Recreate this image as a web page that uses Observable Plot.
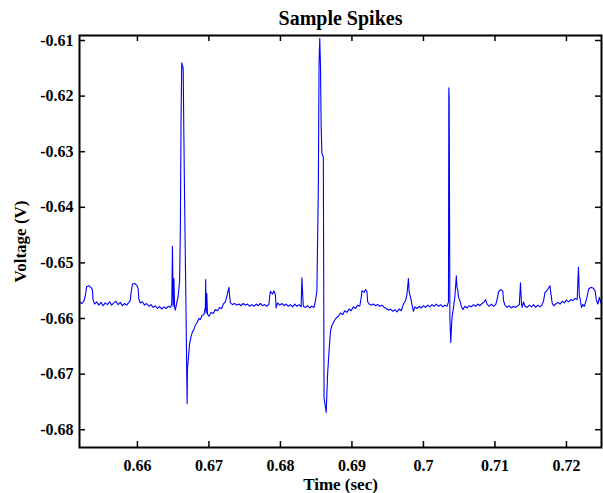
<!DOCTYPE html>
<html><head><meta charset="utf-8">
<script src="https://cdn.jsdelivr.net/npm/d3@7"></script>
<script src="https://cdn.jsdelivr.net/npm/@observablehq/plot@0.6"></script>
<style>html,body{margin:0;padding:0;background:#fff;} #chart{width:603px;height:493px;}</style>
</head><body><div id="chart"></div>
<script>
const chartTitle = "Sample Spikes";
const xLabel = "Time (sec)";
const yLabel = "Voltage (V)";
const xTicks = [0.66, 0.67, 0.68, 0.69, 0.70, 0.71, 0.72];
const yTicks = [-0.68, -0.67, -0.66, -0.65, -0.64, -0.63, -0.62, -0.61];
const xDomain = [0.6519, 0.7249];
const yDomain = [-0.6832, -0.6091];
// [time (s), voltage (V)]
const trace = [
[0.6519,-0.6570],[0.6522,-0.6573],[0.6525,-0.6569],[0.6527,-0.6560],[0.6529,-0.6543],[0.6532,-0.6541],[0.6535,-0.6544],[0.6537,-0.6548],[0.6538,-0.6566],[0.6540,-0.6574],
[0.6543,-0.6570],[0.6546,-0.6576],[0.6549,-0.6571],[0.6552,-0.6577],[0.6555,-0.6572],[0.6558,-0.6575],[0.6561,-0.6570],[0.6564,-0.6576],[0.6567,-0.6572],[0.6570,-0.6569],
[0.6573,-0.6575],[0.6576,-0.6571],[0.6579,-0.6577],[0.6582,-0.6573],[0.6585,-0.6576],[0.6588,-0.6571],[0.6590,-0.6568],[0.6591,-0.6555],[0.6593,-0.6538],[0.6596,-0.6537],
[0.6599,-0.6540],[0.6601,-0.6546],[0.6602,-0.6565],[0.6604,-0.6572],[0.6607,-0.6570],[0.6610,-0.6576],[0.6613,-0.6573],[0.6616,-0.6578],[0.6619,-0.6575],[0.6622,-0.6580],
[0.6625,-0.6577],[0.6628,-0.6582],[0.6631,-0.6578],[0.6634,-0.6583],[0.6637,-0.6579],[0.6640,-0.6582],[0.6643,-0.6578],[0.6646,-0.6580],[0.6648,-0.6575],[0.6649,-0.6470],
[0.6650,-0.6578],[0.6651,-0.6528],[0.6652,-0.6580],[0.6653,-0.6585],[0.6655,-0.6572],[0.6657,-0.6560],[0.6659,-0.6532],[0.6660,-0.6447],[0.6661,-0.6244],[0.6662,-0.6140],
[0.6664,-0.6150],[0.6665,-0.6275],[0.6666,-0.6388],[0.6668,-0.6591],[0.66695,-0.6753],[0.6670,-0.6690],[0.6671,-0.6676],[0.6673,-0.6645],[0.6675,-0.6632],[0.6677,-0.6624],
[0.6679,-0.6620],[0.6681,-0.6612],[0.6683,-0.6608],[0.6686,-0.6600],[0.6688,-0.6602],[0.6690,-0.6595],[0.6693,-0.6593],[0.6695,-0.6580],[0.66955,-0.6530],[0.6696,-0.6590],
[0.6697,-0.6555],[0.6698,-0.6592],[0.6700,-0.6596],[0.6703,-0.6589],[0.6706,-0.6591],[0.6709,-0.6584],[0.6712,-0.6586],[0.6715,-0.6580],[0.6718,-0.6582],[0.6720,-0.6574],
[0.6723,-0.6570],[0.6725,-0.6560],[0.6727,-0.6549],[0.6728,-0.6544],[0.6729,-0.6560],[0.6730,-0.6572],[0.6733,-0.6575],[0.6736,-0.6573],[0.6739,-0.6576],[0.6742,-0.6574],
[0.6745,-0.6577],[0.6748,-0.6573],[0.6751,-0.6576],[0.6754,-0.6574],[0.6757,-0.6578],[0.6760,-0.6575],[0.6763,-0.6578],[0.6766,-0.6574],[0.6769,-0.6577],[0.6772,-0.6573],
[0.6775,-0.6577],[0.6778,-0.6575],[0.6781,-0.6578],[0.6784,-0.6574],[0.6785,-0.6560],[0.6786,-0.6551],[0.6789,-0.6556],[0.6791,-0.6550],[0.6793,-0.6558],[0.6794,-0.6581],
[0.6796,-0.6572],[0.6799,-0.6576],[0.6802,-0.6573],[0.6805,-0.6577],[0.6808,-0.6574],[0.6811,-0.6578],[0.6814,-0.6575],[0.6817,-0.6579],[0.6820,-0.6574],[0.6823,-0.6578],
[0.6826,-0.6575],[0.6829,-0.6579],[0.6830,-0.6527],[0.6832,-0.6578],[0.6835,-0.6580],[0.6838,-0.6577],[0.6841,-0.6581],[0.6844,-0.6578],[0.6847,-0.6580],[0.6849,-0.6568],
[0.6851,-0.6550],[0.6853,-0.6365],[0.6854,-0.6140],[0.6855,-0.6096],[0.6856,-0.6145],[0.6857,-0.6257],[0.6858,-0.6303],[0.6860,-0.6310],[0.6861,-0.6742],[0.6864,-0.6769],
[0.6866,-0.6699],[0.6868,-0.6658],[0.6870,-0.6622],[0.6872,-0.6613],[0.6875,-0.6605],[0.6878,-0.6599],[0.6881,-0.6596],[0.6884,-0.6590],[0.6887,-0.6593],[0.6890,-0.6586],
[0.6893,-0.6589],[0.6896,-0.6583],[0.6899,-0.6586],[0.6902,-0.6579],[0.6905,-0.6582],[0.6908,-0.6576],[0.6911,-0.6578],[0.6913,-0.6562],[0.6914,-0.6550],[0.6917,-0.6553],
[0.6919,-0.6548],[0.6921,-0.6552],[0.6922,-0.6570],[0.6924,-0.6574],[0.6927,-0.6576],[0.6930,-0.6574],[0.6933,-0.6577],[0.6936,-0.6575],[0.6939,-0.6578],[0.6942,-0.6576],
[0.6945,-0.6580],[0.6948,-0.6582],[0.6951,-0.6585],[0.6954,-0.6583],[0.6957,-0.6587],[0.6960,-0.6584],[0.6963,-0.6588],[0.6966,-0.6583],[0.6969,-0.6586],[0.6972,-0.6574],
[0.6975,-0.6568],[0.6977,-0.6556],[0.6979,-0.6528],[0.6980,-0.6552],[0.6982,-0.6562],[0.6984,-0.6575],[0.6986,-0.6587],[0.6988,-0.6579],[0.6991,-0.6582],[0.6994,-0.6578],
[0.6997,-0.6581],[0.7000,-0.6577],[0.7003,-0.6580],[0.7006,-0.6576],[0.7009,-0.6579],[0.7012,-0.6575],[0.7015,-0.6578],[0.7018,-0.6574],[0.7021,-0.6578],[0.7024,-0.6575],
[0.7027,-0.6579],[0.7030,-0.6576],[0.7033,-0.6578],[0.7035,-0.6570],[0.70355,-0.6185],[0.7036,-0.6203],[0.7037,-0.6600],[0.70382,-0.6643],[0.7039,-0.6620],[0.7040,-0.6598],
[0.7042,-0.6580],[0.7044,-0.6560],[0.7046,-0.6523],[0.7047,-0.6545],[0.7048,-0.6548],[0.7049,-0.6562],[0.7051,-0.6568],[0.7053,-0.6578],[0.7055,-0.6584],[0.7058,-0.6578],
[0.7061,-0.6581],[0.7064,-0.6577],[0.7067,-0.6579],[0.7070,-0.6575],[0.7073,-0.6578],[0.7076,-0.6574],[0.7079,-0.6577],[0.7082,-0.6573],[0.7085,-0.6570],[0.7087,-0.6566],
[0.7089,-0.6574],[0.7092,-0.6578],[0.7095,-0.6574],[0.7098,-0.6578],[0.7101,-0.6575],[0.7103,-0.6566],[0.7105,-0.6552],[0.7108,-0.6548],[0.7111,-0.6551],[0.7112,-0.6568],
[0.7114,-0.6576],[0.7117,-0.6580],[0.7120,-0.6577],[0.7123,-0.6581],[0.7126,-0.6578],[0.7129,-0.6580],[0.7132,-0.6577],[0.7134,-0.6575],[0.71357,-0.6536],[0.7137,-0.6572],
[0.7138,-0.6580],[0.7140,-0.6570],[0.7142,-0.6578],[0.7145,-0.6580],[0.7148,-0.6576],[0.7151,-0.6579],[0.7154,-0.6575],[0.7157,-0.6580],[0.7160,-0.6576],[0.7163,-0.6579],
[0.7166,-0.6575],[0.7168,-0.6568],[0.7170,-0.6553],[0.7172,-0.6551],[0.7175,-0.6545],[0.7177,-0.6541],[0.7178,-0.6553],[0.7180,-0.6572],[0.7182,-0.6577],[0.7185,-0.6574],
[0.7188,-0.6571],[0.7191,-0.6574],[0.7194,-0.6569],[0.7197,-0.6572],[0.7200,-0.6567],[0.7203,-0.6570],[0.7206,-0.6566],[0.7209,-0.6568],[0.7212,-0.6564],[0.7215,-0.6566],
[0.72168,-0.6508],[0.7218,-0.6560],[0.7219,-0.6564],[0.7221,-0.6580],[0.7223,-0.6575],[0.7225,-0.6578],[0.7227,-0.6570],[0.7229,-0.6560],[0.7231,-0.6547],[0.7234,-0.6544],
[0.7237,-0.6545],[0.7240,-0.6550],[0.7242,-0.6568],[0.7244,-0.6574],[0.7246,-0.6562],[0.7248,-0.6572],[0.7249,-0.6566]
];
const rows = trace.map(([t, v]) => ({t, v}));

const W = 603, H = 493, mL = 79, mR = 2, mT = 35, mB = 46;
const frameW = W - mL - mR, frameH = H - mT - mB;
const tickLen = 6;
const fmt = d => String(+(+d).toFixed(3));
const font = "'Liberation Serif', 'Times New Roman', serif";

const chart = Plot.plot({
  width: W, height: H,
  marginLeft: mL, marginRight: mR, marginTop: mT, marginBottom: mB,
  style: {fontFamily: font, fontWeight: "bold", fontSize: "16px", background: "white", color: "black", overflow: "visible"},
  x: {domain: xDomain, label: null},
  y: {domain: yDomain, label: null},
  marks: [
    Plot.line(rows, {x: "t", y: "v", stroke: "#0000ff", strokeWidth: 1.1, clip: true}),
    Plot.axisX(xTicks, {anchor: "bottom", tickSize: 0, tickPadding: 12, tickFormat: fmt, label: null, fontSize: 16, fontWeight: "bold"}),
    Plot.axisY(yTicks, {anchor: "left", tickSize: 0, tickPadding: 6, tickFormat: fmt, label: null, fontSize: 16, fontWeight: "bold"}),
    Plot.tickX(xTicks, {x: d => d, insetTop: frameH - tickLen, stroke: "black", strokeWidth: 1.5}),
    Plot.tickX(xTicks, {x: d => d, insetBottom: frameH - tickLen, stroke: "black", strokeWidth: 1.5}),
    Plot.tickY(yTicks, {y: d => d, insetRight: frameW - tickLen, stroke: "black", strokeWidth: 1.5}),
    Plot.tickY(yTicks, {y: d => d, insetLeft: frameW - tickLen, stroke: "black", strokeWidth: 1.5}),
    Plot.frame({stroke: "black", strokeWidth: 2}),
    Plot.text([chartTitle], {text: d => d, frameAnchor: "top", lineAnchor: "middle", textAnchor: "middle", dy: -17, fontSize: 20, fontWeight: "bold", fill: "black"}),
    Plot.text([xLabel], {text: d => d, frameAnchor: "bottom", lineAnchor: "middle", textAnchor: "middle", dy: 37, fontSize: 17, fontWeight: "bold", fill: "black"}),
    Plot.text([yLabel], {text: d => d, frameAnchor: "left", lineAnchor: "middle", textAnchor: "middle", dx: -59, rotate: -90, fontSize: 17, fontWeight: "bold", fill: "black"})
  ]
});
document.getElementById("chart").appendChild(chart);
</script>
</body></html>
